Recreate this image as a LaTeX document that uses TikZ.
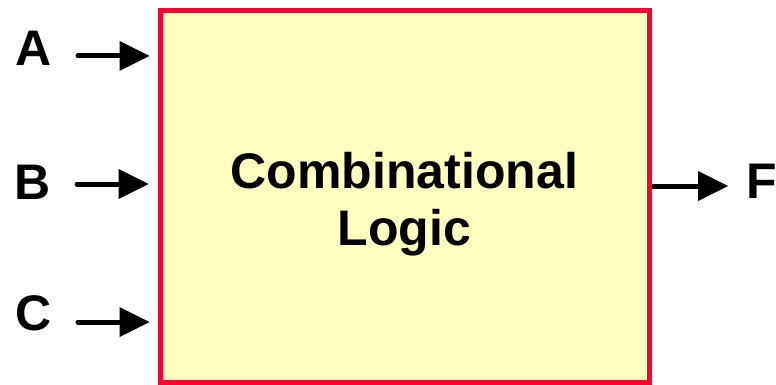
\documentclass[tikz,border=0pt]{standalone}
\usepackage{fontspec}
\setmainfont{Liberation Sans}
\usetikzlibrary{arrows.meta}
\definecolor{boxfill}{RGB}{255,255,191}
\definecolor{boxline}{RGB}{255,0,51}
\tikzset{
  sig/.style={line width=5pt, line cap=round, -{Triangle[length=30pt,width=30pt,line width=0pt]}},
  lbl/.style={font=\fontsize{50}{57}\selectfont\bfseries, inner sep=0pt},
  logicbox/.style={draw=boxline, fill=boxfill, line width=5pt, minimum width=489pt, minimum height=371.5pt, inner sep=0pt}
}
\begin{document}
\begin{tikzpicture}[x=1pt,y=-1pt]
\useasboundingbox (0,0) rectangle (776,385);
\node[logicbox] (box) at (404.5,196.25) {};
\node[lbl, align=center] (txt) at (404.5,204) {Combinational\\Logic};
\node[lbl] (A) at (34,48) {A};
\node[lbl] (B) at (33,182) {B};
\node[lbl] (C) at (34,313) {C};
\node[lbl] (F) at (762,181) {F};
\coordinate (a0) at (78,56);
\coordinate (b0) at (77,184);
\coordinate (c0) at (78,322);
\coordinate (f1) at (728,186);
\draw[sig, shorten >=8pt] (a0) -- (a0 -| box.west);
\draw[sig, shorten >=9pt] (b0) -- (b0 -| box.west);
\draw[sig, shorten >=8pt] (c0) -- (c0 -| box.west);
\draw[sig, line cap=butt] (f1 -| box.east) -- (f1);
\end{tikzpicture}
\end{document}
